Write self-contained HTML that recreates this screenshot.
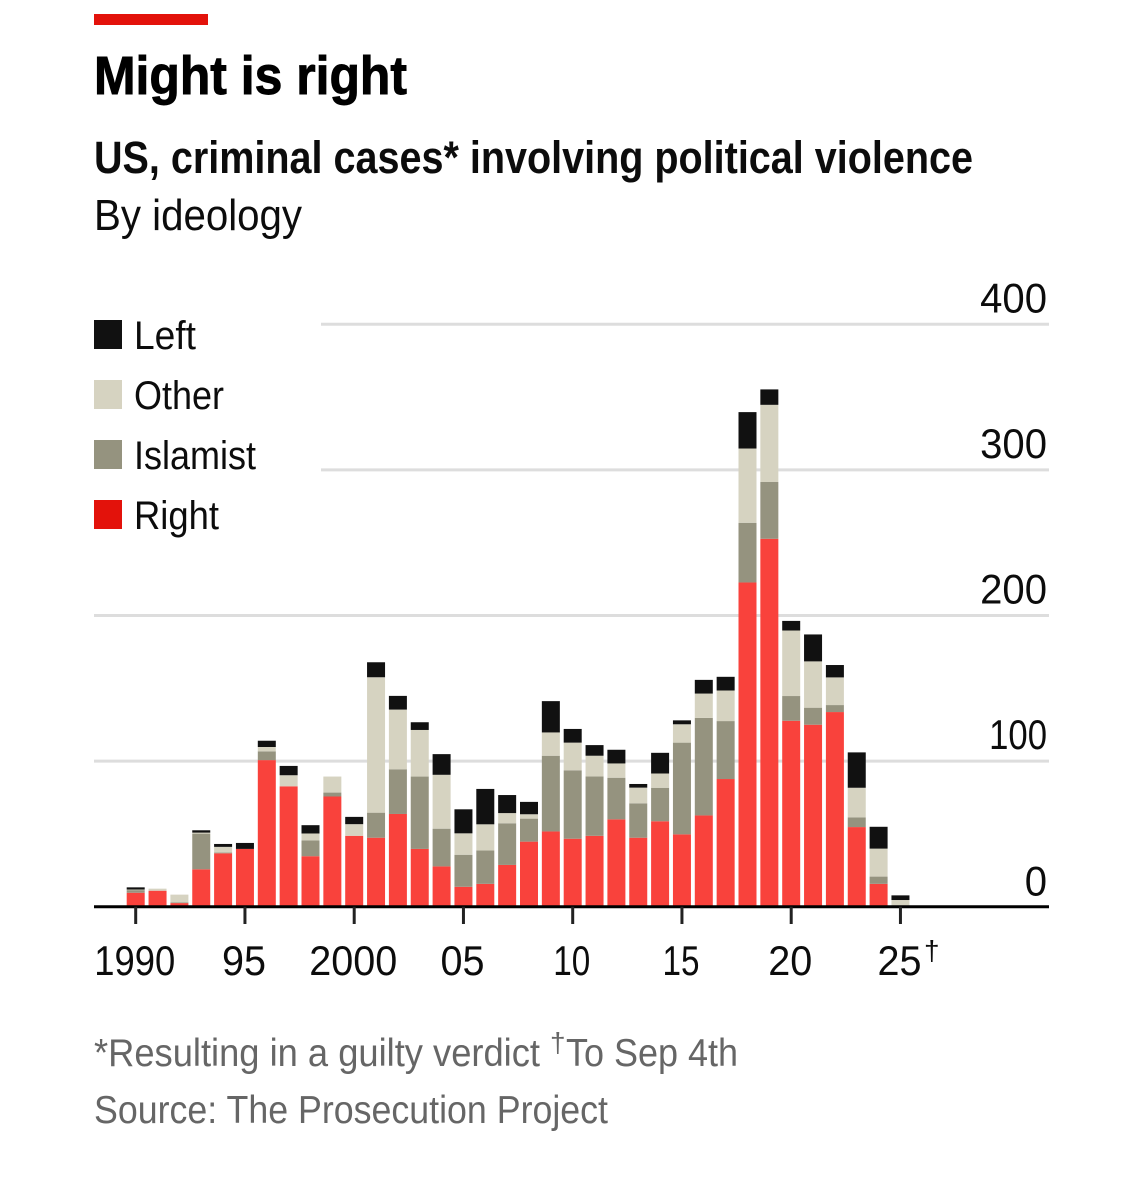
<!DOCTYPE html>
<html lang="en">
<head>
<meta charset="utf-8">
<title>Might is right</title>
<style>
html,body{margin:0;padding:0;background:#fff;width:1143px;height:1200px;overflow:hidden}
svg{display:block}
text{font-family:"Liberation Sans",sans-serif}
</style>
</head>
<body>
<svg id="chart" xmlns="http://www.w3.org/2000/svg" width="1143" height="1200" viewBox="0 0 1143 1200">
  <rect x="0" y="0" width="1143" height="1200" fill="#ffffff"/>
  <rect x="94" y="14" width="114" height="11" fill="#e3120b"/>
  <text x="94" y="94" font-size="54" font-weight="700" fill="#000" stroke="#000" stroke-width="0.9" textLength="313" lengthAdjust="spacingAndGlyphs">Might is right</text>
  <text x="94" y="173" font-size="45" font-weight="700" fill="#0c0c0c" textLength="879" lengthAdjust="spacingAndGlyphs">US, criminal cases* involving political violence</text>
  <text x="94" y="230" font-size="44" fill="#0c0c0c" textLength="208" lengthAdjust="spacingAndGlyphs">By ideology</text>

  <g id="grid"></g>
  <g id="bars"></g>
  <g id="xaxis"></g>
  <g id="yaxis"></g>

  <g>
    <rect x="94" y="320" width="28" height="29" fill="#111111"/>
    <text x="134" y="349" font-size="40" fill="#0c0c0c" textLength="62" lengthAdjust="spacingAndGlyphs">Left</text>
    <rect x="94" y="380" width="28" height="29" fill="#d6d3c1"/>
    <text x="134" y="409" font-size="40" fill="#0c0c0c" textLength="90" lengthAdjust="spacingAndGlyphs">Other</text>
    <rect x="94" y="440" width="28" height="29" fill="#95937f"/>
    <text x="134" y="469" font-size="40" fill="#0c0c0c" textLength="122" lengthAdjust="spacingAndGlyphs">Islamist</text>
    <rect x="94" y="500" width="28" height="29" fill="#e3120b"/>
    <text x="134" y="529" font-size="40" fill="#0c0c0c" textLength="85" lengthAdjust="spacingAndGlyphs">Right</text>
  </g>

  <text x="94" y="1066" font-size="39" fill="#666666" textLength="446" lengthAdjust="spacingAndGlyphs">*Resulting in a guilty verdict</text>
  <text x="550" y="1052" font-size="28" fill="#666666">†</text>
  <text x="566" y="1066" font-size="39" fill="#666666" textLength="172" lengthAdjust="spacingAndGlyphs">To Sep 4th</text>
  <text x="94" y="1123" font-size="39" fill="#666666" textLength="514" lengthAdjust="spacingAndGlyphs">Source: The Prosecution Project</text>
</svg>
<script>
const years = [1990,1991,1992,1993,1994,1995,1996,1997,1998,1999,2000,2001,2002,2003,2004,2005,2006,2007,2008,2009,2010,2011,2012,2013,2014,2015,2016,2017,2018,2019,2020,2021,2022,2023,2024,2025];
const rightValues =    [8.9,10.3,1.8,25,36,39,100,82,34,75,48,46.7,63,39,27,13,15,28,44,51,46,48,59.3,46.7,58,49,62,87,222,252,127,124.3,133,54,15,0];
const islamistValues = [1.8,0,0.5,24.5,0.5,0,6,0,10.8,2.7,0,17.2,30.7,49.7,25.9,22,22.9,28.6,15.8,52,47,40.8,28.6,23.6,23,63,67,39.8,41,39,17,11.7,4.8,6.6,5,0];
const otherValues =    [0.4,1.4,5.3,0.7,3.9,0,3,7.6,4.8,11,8,93,41,32,37,14.7,18,7,3,16,19,14.2,9.8,10.8,9.8,12.6,16.7,21,51,53,45,31.8,19,20.4,19.2,3.9];
const leftValues =     [1.5,0,0,1.6,2,4.1,4.3,6.4,5.7,0,5,10.3,9.4,5.3,14.2,16.5,24.3,12.4,8.5,21.5,9.4,7.3,9.4,2.5,14.2,2.7,9.4,9.4,25,10.6,6.6,18.5,8.5,24.3,15,3.2];
const yTickValues = [0,100,200,300,400];
const xTickYears = [1990,1995,2000,2005,2010,2015,2020,2025];
const xTickLabels = ['1990','95','2000','05','10','15','20','25'];

const NS = 'http://www.w3.org/2000/svg';
const baseY = 906.7, barBaseY = 905.7, pxPerUnit = 1.456;
const firstX = 135.7, pxPerYear = 21.85, barW = 18;
function y(v){ return baseY - v * pxPerUnit; }
function barY(v){ return barBaseY - v * pxPerUnit; }
function x(yr){ return firstX + (yr - 1990) * pxPerYear; }
function make(tag, attrs){
  const el = document.createElementNS(NS, tag);
  for (const k in attrs) el.setAttribute(k, attrs[k]);
  return el;
}
// Narrow the "1" digit's footprint the way the condensed original face does.
function labelScale(label, digitW, oneCut){
  const ones = label.split('1').length - 1;
  return (label.length * digitW - ones * oneCut) / (label.length * 23.36);
}
const grid = document.getElementById('grid');
const bars = document.getElementById('bars');
const xaxis = document.getElementById('xaxis');
const yaxis = document.getElementById('yaxis');

yTickValues.forEach(function(v){
  if (v > 0) {
    const line = make('line', {x1: v >= 300 ? 321 : 94, x2: 1049, y1: y(v), y2: y(v), stroke: '#dddddd', 'stroke-width': 3});
    
    
    grid.appendChild(line);
  }
  const label = String(v);
  const t = make('text', {'text-anchor': 'end', transform: 'translate(1047,' + (y(v) - (v === 0 ? 11 : 12)) + ') scale(' + labelScale(label, 22.3, 9) + ',1)', 'font-size': 42, fill: '#0c0c0c'});
  t.textContent = label;
  
  
  yaxis.appendChild(t);
});

const stackSeries = [
  {key: 'right', values: rightValues, color: '#f9423c'},
  {key: 'islamist', values: islamistValues, color: '#95937f'},
  {key: 'other', values: otherValues, color: '#d6d3c1'},
  {key: 'left', values: leftValues, color: '#111111'}
];
years.forEach(function(yr, i){
  let cum = 0;
  stackSeries.forEach(function(s){
    const v = s.values[i];
    if (v > 0) {
      const r = make('rect', {x: x(yr) - barW / 2, y: barY(cum + v), width: barW, height: v * pxPerUnit, fill: s.color});
      
      
      bars.appendChild(r);
    }
    cum += v;
  });
});

const axisLine = make('line', {x1: 94, x2: 1049, y1: baseY, y2: baseY, stroke: '#000000', 'stroke-width': 3});


xaxis.appendChild(axisLine);

xTickYears.forEach(function(yr, i){
  const tick = make('line', {x1: x(yr), x2: x(yr), y1: baseY, y2: 924, stroke: '#222222', 'stroke-width': 3});
  
  
  xaxis.appendChild(tick);
  const label = xTickLabels[i];
  const t = make('text', {'text-anchor': 'middle', transform: 'translate(' + (x(yr) - 1) + ',975) scale(' + labelScale(label, 22, 7) + ',1)', 'font-size': 42, fill: '#0c0c0c'});
  t.textContent = label;
  
  
  xaxis.appendChild(t);
});

const dagger = make('text', {x: x(2025) + 23.5, y: 960, 'font-size': 28, fill: '#0c0c0c'});
dagger.textContent = '†';


xaxis.appendChild(dagger);
</script>
</body>
</html>
